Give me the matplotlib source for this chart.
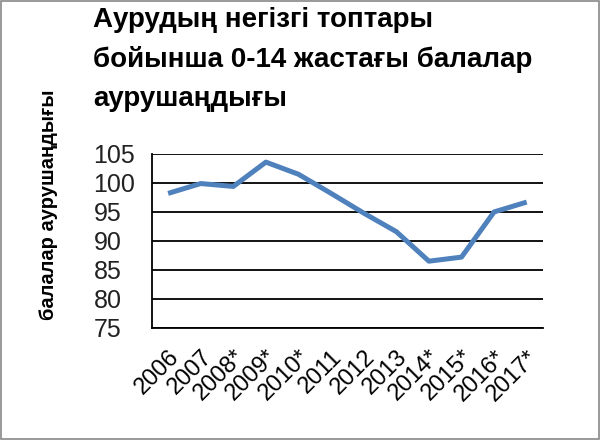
import matplotlib.pyplot as plt
from matplotlib.patches import Rectangle

# Данные
years = ['2006', '2007', '2008*', '2009*', '2010*', '2011', '2012', '2013',
         '2014*', '2015*', '2016*', '2017*']
values = [98.2, 99.9, 99.4, 103.6, 101.5, 98.2, 94.8, 91.6, 86.5, 87.2, 95.0, 96.7]
yticks = [75, 80, 85, 90, 95, 100, 105]

plt.rcParams['font.family'] = ['Liberation Sans', 'DejaVu Sans']

fig = plt.figure(figsize=(6, 4.4), dpi=100)
ax = fig.add_axes([0.253, 0.255, 0.652, 0.395])

x = list(range(len(years)))
ax.plot(x, values, color='#4F81BD', linewidth=3.6, solid_capstyle='butt')

ax.set_xlim(-0.5, len(years) - 0.5)
ax.set_ylim(75, 105)
ax.set_yticks(yticks)
ax.set_yticklabels([str(v) for v in yticks], fontsize=18, color='#222222', ha='left')
ax.tick_params(axis='y', length=0, pad=42)
ax.yaxis.grid(True, color='black', linewidth=1.3)
ax.set_axisbelow(True)

ax.set_xticks(x)
ax.set_xticklabels(years, rotation=45, ha='right', va='top', fontsize=17,
                   rotation_mode='anchor')
ax.tick_params(axis='x', length=0, pad=13)

for s in ['top', 'right']:
    ax.spines[s].set_visible(False)
ax.spines['left'].set_linewidth(1.3)
ax.spines['bottom'].set_linewidth(1.3)

ax.set_ylabel('балалар аурушаңдығы', fontsize=14.5, fontweight='bold')
ax.yaxis.set_label_coords(-0.24, 0.71)

fig.text(0.155, 0.985, 'Аурудың негізгі топтары\nбойынша 0-14 жастағы балалар\nаурушаңдығы',
         fontsize=20, fontweight='bold', va='top', ha='left', linespacing=1.65)

# рамка вокруг рисунка
fig.patches.append(Rectangle((0.001, 0.002), 0.997, 0.996, transform=fig.transFigure,
                             fill=False, edgecolor='#888888', linewidth=1.2))

plt.savefig('out.png', dpi=100)
